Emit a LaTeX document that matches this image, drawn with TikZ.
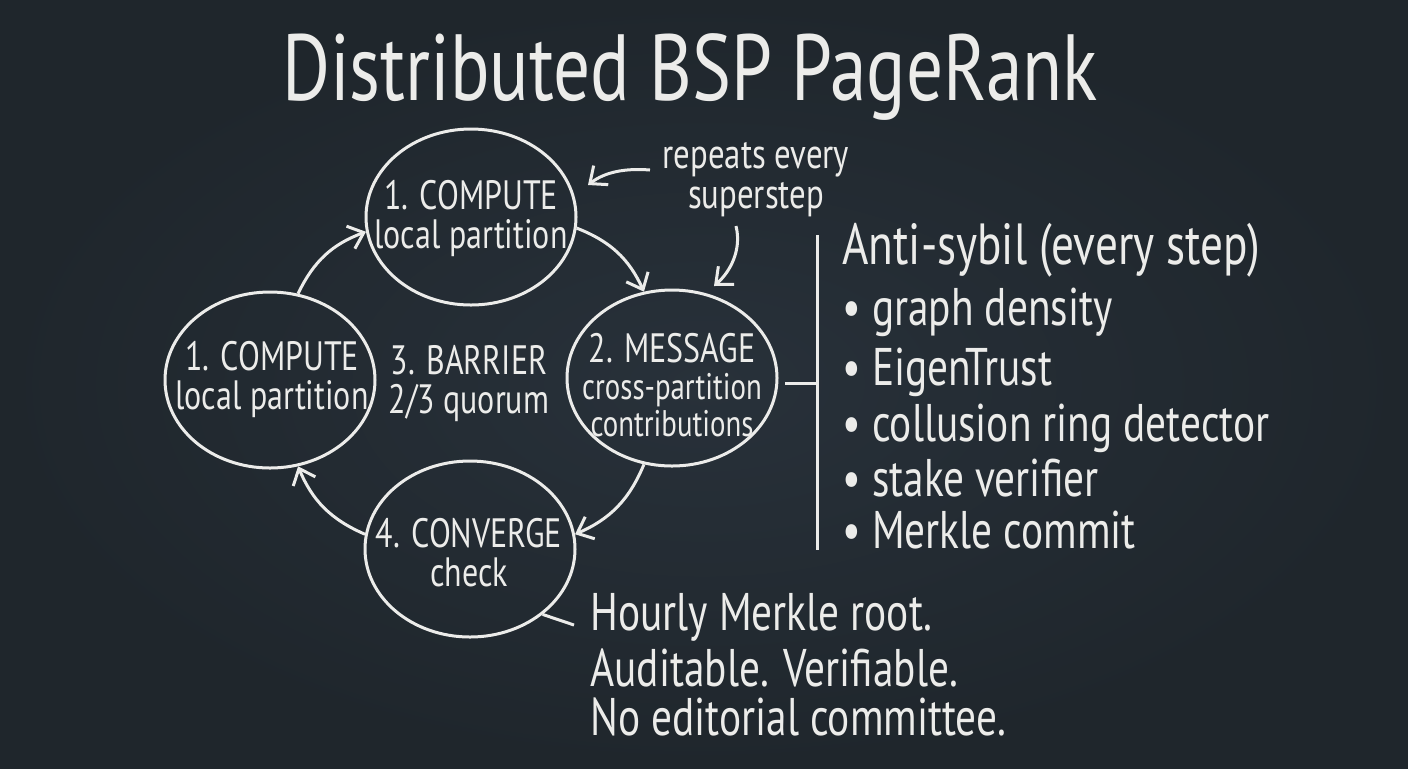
\documentclass[tikz,border=0pt]{standalone}
\usepackage{fontspec}
\setmainfont{PT Sans}
\newfontfamily\chalk[FakeStretch=0.78]{PT Sans}
\usetikzlibrary{arrows.meta,shapes.geometric,calc}
\definecolor{board}{HTML}{1F262C}
\definecolor{boardin}{HTML}{28313A}
\definecolor{chalkc}{HTML}{ECECEA}
\begin{document}
\begin{tikzpicture}[x=0.5pt,y=-0.5pt,
  every node/.style={text=chalkc, font=\chalk, inner sep=0},
  stage/.style={draw=chalkc, line width=1.5pt, ellipse, minimum width=105pt, minimum height=88pt, inner sep=0},
  lbl/.style={align=center, font=\chalk\fontsize{20.5}{19.5}\selectfont},
  flow/.style={draw=chalkc, line width=1.5pt, -{Straight Barb[length=7pt,width=12pt,line width=1.5pt]}},
  chalkline/.style={draw=chalkc, line width=1.5pt},
  side/.style={anchor=west, font=\chalk\fontsize{26.5}{26.5}\selectfont},
  note/.style={anchor=west, font=\chalk\fontsize{26.5}{26.5}\selectfont}]
\useasboundingbox (0,0) rectangle (1408,768);
\shade[inner color=boardin, outer color=board] (0,0) rectangle (1408,768);

\node[font=\chalk\fontsize{47}{47}\selectfont] (title) at (690,77) {Distributed BSP PageRank};

% stages
\node[stage] (T) at (471,217) {};
\node[stage] (L) at (270,380) {};
\node[stage] (R) at (672,378) {};
\node[stage] (B) at (470,549) {};

\node[lbl] (tT) at (471,218) {1. COMPUTE\\local partition};
\node[lbl] (tL) at (272,379) {1. COMPUTE\\local partition};
\node[lbl, font=\chalk\fontsize{20.5}{18.5}\selectfont] (tR) at (672,385) {2. MESSAGE\\{\fontsize{18.5}{17.5}\selectfont cross-partition}\\{\fontsize{18.5}{17.5}\selectfont contributions}};
\node[lbl] (tB) at (469,553) {4. CONVERGE\\check};
\node[lbl] (bar) at (469,384) {3. BARRIER\\2/3 quorum};

% cycle
\draw[flow] (L.72) to[bend left=22] (T.188);
\draw[flow] (T.-6) to[bend left=22] (R.108);
\draw[flow] (R.-108) to[bend left=22] (B.8);
\draw[flow] (B.172) to[bend left=22] (L.-72);

% repeats note
\node[lbl, font=\chalk\fontsize{21}{20}\selectfont] (rep) at (756,180) {repeats every\\superstep};
\coordinate (r1s) at (650,170);
\coordinate (r1e) at (588,185);
\coordinate (r2s) at (736,226);
\coordinate (r2e) at (714,286);
\draw[flow] (r1s) .. controls (625,168) and (605,172) .. (r1e);
\draw[flow] (r2s) .. controls (742,250) and (730,272) .. (r2e);

% anti-sybil bracket
\coordinate (vt) at (817,235);
\coordinate (vb) at (817,550);
\coordinate (vm) at (817,383);
\coordinate (hs) at (785,383);
\draw[chalkline] (vt) -- (vb);
\draw[chalkline] (hs) -- (vm);

\node[side, font=\chalk\fontsize{29}{29}\selectfont] (as) at (842,250) {Anti-sybil (every step)};
\node[side] (b1) at (842,312) {\textbullet\ graph density};
\node[side] (b2) at (842,372) {\textbullet\ EigenTrust};
\node[side] (b3) at (842,428) {\textbullet\ collusion ring detector};
\node[side] (b4) at (842,478) {\textbullet\ stake verifier};
\node[side] (b5) at (842,530) {\textbullet\ Merkle commit};

% bottom note
\coordinate (ns) at (574,625);
\draw[chalkline] (B.-42) -- (ns);
\node[note] (n1) at (590,617) {Hourly Merkle root.};
\node[note] (n2) at (590,668) {Auditable. Verifiable.};
\node[note] (n3) at (590,717) {No editorial committee.};
\end{tikzpicture}
\end{document}
